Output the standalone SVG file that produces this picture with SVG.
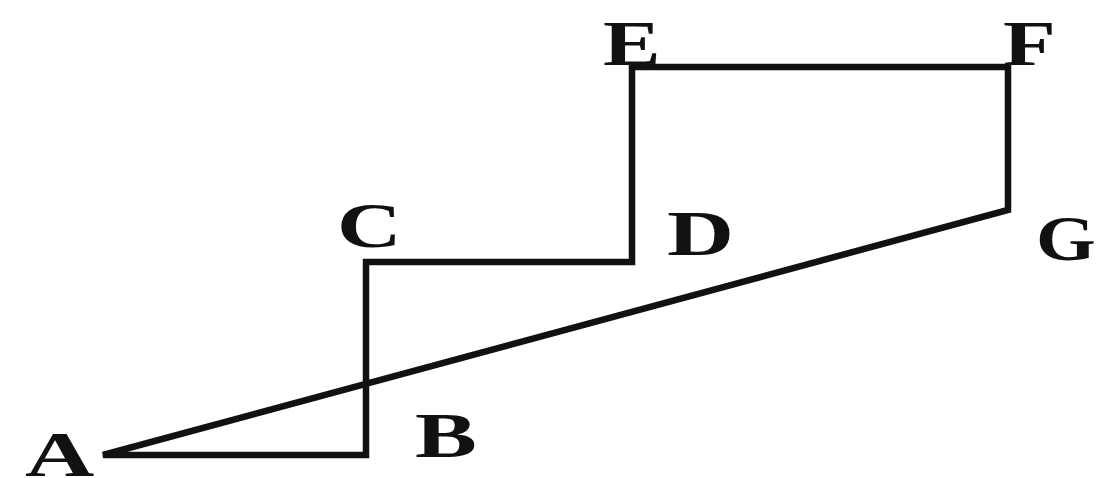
<svg xmlns="http://www.w3.org/2000/svg" width="1097" height="478" viewBox="0 0 1097 478">
<style>
.edge{fill:none;stroke:#111;stroke-width:6.5;stroke-linejoin:miter;stroke-linecap:butt}
.lbl{font-family:"Liberation Serif","Times New Roman",serif;font-weight:bold;font-size:64px;fill:#111}
</style>
<rect width="1097" height="478" fill="#fff"/>
<g id="connectors">
<path class="edge" d="M103 455 H366 V262 H632 V67 H1008 V210 Z"/>
</g>
<g id="A"><text class="lbl" transform="translate(25,476) scale(1.5,1)">A</text></g>
<g id="B"><text class="lbl" transform="translate(415,457) scale(1.45,1)">B</text></g>
<g id="C"><text class="lbl" transform="translate(337,247) scale(1.4,1)">C</text></g>
<g id="D"><text class="lbl" transform="translate(667,255) scale(1.45,1)">D</text></g>
<g id="E"><text class="lbl" transform="translate(603,65) scale(1.35,1)">E</text></g>
<g id="F"><text class="lbl" transform="translate(1003,65) scale(1.35,1)">F</text></g>
<g id="G"><text class="lbl" transform="translate(1036,260) scale(1.2,1)">G</text></g>
</svg>
